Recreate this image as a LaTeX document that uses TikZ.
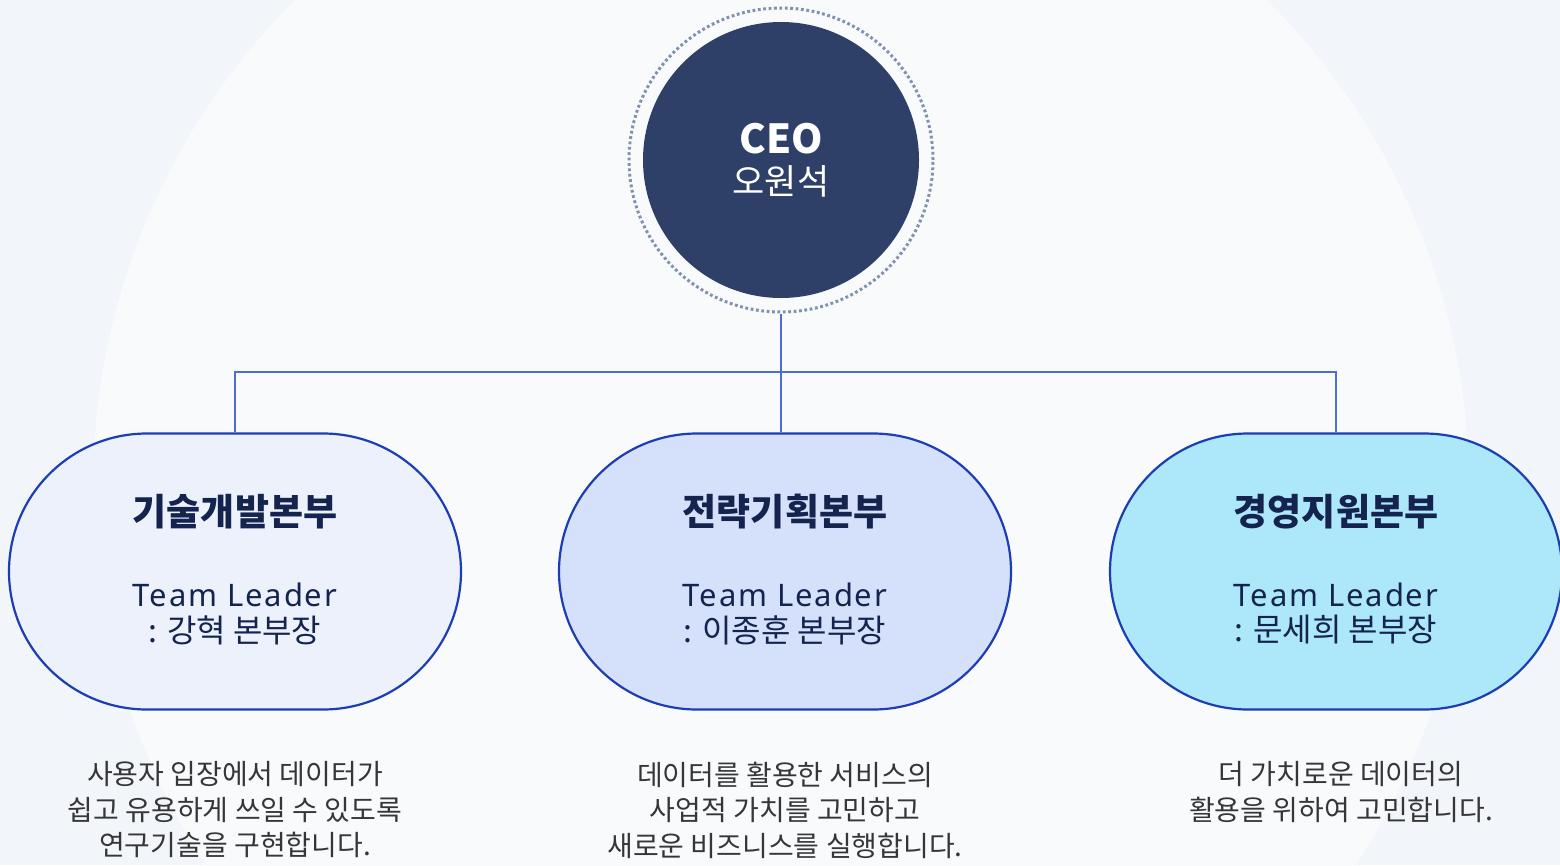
\documentclass[tikz,border=0pt]{standalone}
\usepackage{fontspec}
\setmainfont{Noto Sans}
\newfontfamily\kr{Noto Sans CJK KR}
\newfontfamily\lat[LetterSpace=6]{Noto Sans}
\definecolor{bgout}{HTML}{F2F5FA}
\definecolor{bgin}{HTML}{F8FAFC}
\definecolor{ceofill}{HTML}{2F4068}
\definecolor{ringc}{HTML}{8192AE}
\definecolor{connc}{HTML}{4D6DD3}
\definecolor{boxline}{HTML}{1D3DB5}
\definecolor{fillA}{HTML}{ECF1FC}
\definecolor{fillB}{HTML}{D5E0FA}
\definecolor{fillC}{HTML}{ADE8FA}
\definecolor{navy}{HTML}{14244F}
\definecolor{desc}{HTML}{363636}
\tikzset{
  conn/.style={draw=connc, line width=2.4pt},
  deptbox/.style={draw=boxline, line width=2.2pt, rounded corners=138pt,
    minimum width=452pt, minimum height=276pt, inner sep=0pt},
  titletxt/.style={text=navy, font=\kr\bfseries\fontsize{37}{42}\selectfont, inner sep=0pt},
  leadtxt/.style={text=navy, font=\lat\fontsize{31}{36}\selectfont, inner sep=0pt},
  nametxt/.style={text=navy, font=\kr\fontsize{32}{36}\selectfont, inner sep=0pt},
  desctxt/.style={text=desc, font=\kr\fontsize{28}{35.5}\selectfont, align=center, inner sep=0pt},
}
\begin{document}
\begin{tikzpicture}[x=1pt,y=-1pt]
\useasboundingbox (0,0) rectangle (1560,865);
\begin{scope}
\clip (0,0) rectangle (1560,865);
\fill[bgout] (0,0) rectangle (1560,865);
\fill[bgin] (781,487) circle (688);

% CEO
\node[circle, draw=ringc, line width=3pt, dash pattern=on 2.8pt off 2.6pt, minimum size=304pt, inner sep=0pt] (ring) at (781,160) {};
\node[circle, fill=ceofill, minimum size=276pt, inner sep=0pt] (ceo) at (781,160) {};
\node[text=white, font=\kr\bfseries\fontsize{40}{46}\selectfont, inner sep=0pt] (ceot) at (781,139) {CEO};
\node[text=white, font=\kr\fontsize{35}{40}\selectfont, inner sep=0pt] (ceon) at (781,181) {오원석};

% boxes
\node[deptbox, fill=fillA] (b1) at (235,571.5) {};
\node[deptbox, fill=fillB] (b2) at (785,571.5) {};
\node[deptbox, fill=fillC] (b3) at (1336,571.5) {};

% connectors
\coordinate (hl) at (235,372);
\coordinate (hr) at (1336,372);
\draw[conn] (ring.south) -- (ring.south |- hl);
\draw[conn] (b1.north) -- (hl) -- (hr) -- (b3.north);
\draw[conn] (ring.south |- hl) -- (ring.south |- b2.north);

% box texts
\node[titletxt] (t1) at (235,512) {기술개발본부};
\node[leadtxt] (l1) at (235,595) {Team Leader};
\node[nametxt] (n1) at (235,630) {: 강혁 본부장};

\node[titletxt] (t2) at (785,512) {전략기획본부};
\node[leadtxt] (l2) at (785,595) {Team Leader};
\node[nametxt] (n2) at (785,630) {: 이종훈 본부장};

\node[titletxt] (t3) at (1336,512) {경영지원본부};
\node[leadtxt] (l3) at (1336,595) {Team Leader};
\node[nametxt] (n3) at (1336,630) {: 문세희 본부장};

% descriptions
\node[desctxt] (d1) at (235,810) {사용자 입장에서 데이터가\\쉽고 유용하게 쓰일 수 있도록\\연구기술을 구현합니다.};
\node[desctxt] (d2) at (785,810) {데이터를 활용한 서비스의\\사업적 가치를 고민하고\\새로운 비즈니스를 실행합니다.};
\node[desctxt] (d3) at (1341,792) {더 가치로운 데이터의\\활용을 위하여 고민합니다.};
\end{scope}
\end{tikzpicture}
\end{document}
